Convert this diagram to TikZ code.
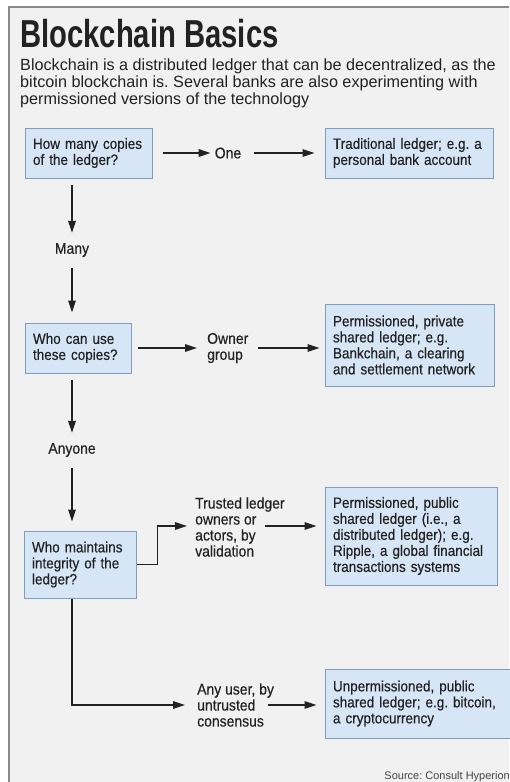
\documentclass[tikz,border=0pt]{standalone}
\usepackage{fontspec}
\setmainfont{Liberation Sans}
\newfontfamily\condfont[FakeStretch=0.9,FakeBold=0.4]{Liberation Sans}
\newfontfamily\headfont[FakeStretch=0.75]{Liberation Sans}
\usetikzlibrary{arrows.meta}
\frenchspacing

\definecolor{panel}{HTML}{F1F1F1}
\definecolor{frameline}{HTML}{8A8A8A}
\definecolor{boxfill}{HTML}{D6E6F6}
\definecolor{boxline}{HTML}{7F9DBD}
\definecolor{ink}{HTML}{222222}

\tikzset{
  qbox/.style 2 args={draw=boxline, fill=boxfill, line width=1pt,
    inner xsep=8pt, inner ysep=0pt, text width=#1, minimum height=#2,
    align=left, text=ink, font=\condfont\fontsize{15}{16}\selectfont},
  lbl/.style={inner sep=0pt, align=left, text=ink,
    font=\condfont\fontsize{15.5}{16}\selectfont},
  arr/.style={draw=ink, line width=1.5pt,
    -{Triangle[length=12pt,width=7.5pt]}}
}

\begin{document}
\begin{tikzpicture}[x=1pt,y=-1pt]
  \useasboundingbox (0,0) rectangle (509,782);
  % panel and frame
  \fill[white] (0,0) rectangle (509,782);
  \fill[panel] (9,7) rectangle (509,782);
  \draw[frameline, line width=1.5pt] (9,782) -- (9,7) -- (509,7);

  % heading
  \node[anchor=base west, inner sep=0pt, text=ink,
        font=\headfont\bfseries\fontsize{39}{40}\selectfont] (title) at (20,47) {Blockchain Basics};
  \node[anchor=north west, inner sep=0pt, align=left, text=ink,
        font=\fontsize{16.2}{17}\selectfont] (intro) at (20,59)
    {Blockchain is a distributed ledger that can be decentralized, as the\\
     bitcoin blockchain is. Several banks are also experimenting with\\
     permissioned versions of the technology};

  % boxes
  \node[qbox={111pt}{50pt}] (q1) at (88.5,153) {How many copies\\of the ledger?};
  \node[qbox={152pt}{50pt}] (r1) at (409,153) {Traditional ledger; e.g. a\\personal bank account};
  \node[qbox={90pt}{50pt}]  (q2) at (78,348) {Who can use\\these copies?};
  \node[qbox={153pt}{82pt}] (r2) at (409.5,345) {Permissioned, private\\shared ledger; e.g.\\Bankchain, a clearing\\and settlement network};
  \node[qbox={96pt}{67pt}]  (q3) at (80,564.5) {Who maintains\\integrity of the\\ledger?};
  \node[qbox={156pt}{98pt}] (r3) at (411,536) {Permissioned, public\\shared ledger (i.e., a\\distributed ledger); e.g.\\Ripple, a global financial\\transactions systems};
  \node[qbox={174pt}{69pt}] (r4) at (420,703.5) {Unpermissioned, public\\shared ledger; e.g. bitcoin,\\a cryptocurrency};

  % labels
  \node[lbl] (one) at (228,153) {One};
  \node[lbl] (many) at (72,250) {Many};
  \node[lbl, anchor=west] (owner) at (207,348) {Owner\\group};
  \node[lbl] (anyone) at (72,450) {Anyone};
  \node[lbl, anchor=west] (trusted) at (195,527) {Trusted ledger\\owners or\\actors, by\\validation};
  \node[lbl, anchor=west] (anyuser) at (197,705) {Any user, by\\untrusted\\consensus};

  \node[anchor=base east, inner sep=0pt, text=ink!85,
        font=\fontsize{11}{12}\selectfont] (src) at (510,779) {Source: Consult Hyperion};

  % connectors
  \draw[arr, shorten <=10pt, shorten >=4pt] (q1.east) -- (one.west);
  \draw[arr, shorten <=13pt, shorten >=10pt] (one.east) -- (r1.west);

  \draw[arr, shorten <=6pt, shorten >=10pt] (q1.south -| many.north) -- (many.north);
  \draw[arr, shorten <=11pt, shorten >=10pt] (many.south) -- (q2.north -| many.south);

  \draw[arr, shorten <=6pt, shorten >=10pt] (q2.east) -- (owner.west);
  \draw[arr, shorten <=10pt, shorten >=5pt] (owner.east) -- (owner.east -| r2.west);

  \draw[arr, shorten <=6pt, shorten >=10pt] (q2.south -| anyone.north) -- (anyone.north);
  \draw[arr, shorten <=11pt, shorten >=9pt] (anyone.south) -- (q3.north -| anyone.south);

  \coordinate (tv) at (265,526);
  \draw[arr, shorten >=8pt] (q3.east) -- ++(21,0) |- (trusted.west |- tv);
  \draw[arr, shorten >=8pt] (tv) -- (tv -| r3.west);

  \coordinate (uv) at (268,705);
  \draw[arr, shorten >=12pt] (q3.south -| anyone.south) |- (anyuser.west);
  \draw[arr, shorten >=8pt] (uv) -- (uv -| r4.west);
\end{tikzpicture}
\end{document}
